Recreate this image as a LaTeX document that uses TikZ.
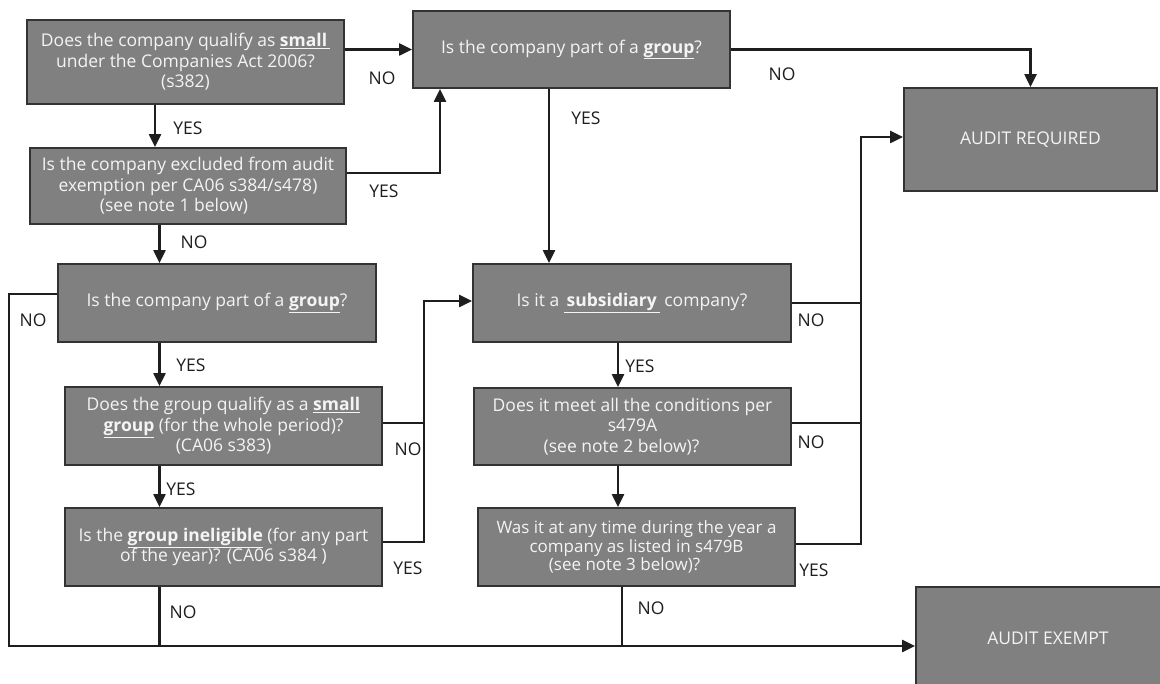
\documentclass[tikz,border=0pt]{standalone}
\usepackage{fontspec}
\setmainfont{Open Sans}
\usetikzlibrary{arrows.meta}
\definecolor{boxgray}{HTML}{808080}
\definecolor{edgegray}{HTML}{333333}
\definecolor{ink}{HTML}{1E1E1E}
\definecolor{boxtext}{HTML}{F4F4F4}
\tikzset{
  qbox/.style={draw=edgegray, line width=1.8pt, fill=boxgray, text=boxtext,
    align=center, inner sep=0pt, font=\fontsize{17.5}{20.5}\selectfont},
  arr/.style={draw=ink, line width=2.2pt, -{Triangle[length=13pt,width=12pt]}},
  ln/.style={draw=ink, line width=2.2pt},
  lbl/.style={text=ink, inner sep=0pt, font=\fontsize{17.5}{18}\selectfont},
}
\newcommand{\keyword}[1]{\underline{\textbf{#1}}}

\begin{document}
\begin{tikzpicture}[x=1pt,y=-1pt]
\useasboundingbox (0,0) rectangle (1160,684);
\fill[white] (0,0) rectangle (1160,684);

% decision boxes
\node[qbox, minimum width=317pt, minimum height=84pt] (A) at (185.5,62)
  {Does the company qualify as \keyword{small\,}\\under the Companies Act 2006?\\(s382)};
\node[qbox, minimum width=316pt, minimum height=76pt] (B) at (188,186)
  {Is the company excluded from audit\\exemption per CA06 s384/s478)\\(see note 1 below)\hspace*{28pt}};
\node[qbox, minimum width=317pt, minimum height=77pt] (C) at (571.5,49.5)
  {Is the company part of a \keyword{group}?};
\node[qbox, minimum width=318pt, minimum height=78pt] (D) at (217,303)
  {Is the company part of a \keyword{group}?};
\node[qbox, minimum width=317pt, minimum height=78pt] (E) at (223.5,426)
  {Does the group qualify as a \keyword{small}\\\keyword{group} (for the whole period)?\\(CA06 s383)};
\node[qbox, minimum width=317pt, minimum height=78pt] (F) at (223.5,547)
  {Is the \keyword{group ineligible} (for any part\\of the year)? (CA06 s384 )};
\node[qbox, minimum width=318pt, minimum height=78pt] (G) at (632,303)
  {Is it a \keyword{\,subsidiary\,} company?};
\node[qbox, minimum width=317pt, minimum height=77pt] (H) at (632.5,426.5)
  {Does it meet all the conditions per\\s479A\hspace*{42pt}\\(see note 2 below)?\hspace*{22pt}};
\node[qbox, minimum width=317pt, minimum height=78pt,
      font=\fontsize{17}{18.5}\selectfont] (I) at (636.5,547)
  {Was it at any time during the year a\\company as listed in s479B\hspace*{16pt}\\(see note 3 below)?\hspace*{24pt}};

% outcomes
\node[qbox, minimum width=253pt, minimum height=103pt] (AR) at (1030.5,139.5)
  {AUDIT REQUIRED};
\node[qbox, minimum width=264pt, minimum height=103pt] (AE) at (1048,638.5)
  {AUDIT EXEMPT};

% routing points
\coordinate (xa) at (155,0);
\coordinate (xb) at (159.5,0);
\coordinate (bc) at (440,173);
\coordinate (xd) at (549,0);
\coordinate (dl) at (9,294);
\coordinate (bl) at (9,646);
\coordinate (jl) at (424,301);
\coordinate (jr) at (861,137);
\coordinate (xh) at (618,0);
\coordinate (xi) at (622,0);

% connectors
\draw[arr] (A.east |- C.west) -- (C.west);
\draw[arr] (A.south -| xa) -- (B.north -| xa);
\draw[arr] (B.east |- bc) -- (bc) -- (C.south -| bc);
\draw[arr] (B.south -| xb) -- (D.north -| xb);
\draw[arr] (C.east) -- (C.east -| AR.north) -- (AR.north);
\draw[arr] (C.south -| xd) -- (G.north -| xd);
\draw[arr] (D.west |- dl) -- (dl) -- (bl) -- (AE.west |- bl);
\draw[arr] (D.south -| xb) -- (E.north -| xb);
\draw[arr] (E.south -| xb) -- (F.north -| xb);
\draw[ln] (F.south -| xb) -- (xb |- bl);
\draw[arr] (E.east |- 0,423) -| (jl) -- (G.west |- jl);
\draw[ln] (F.east |- 0,542) -| (jl);
\draw[arr] (G.east) -| (jr) -- (AR.west |- jr);
\draw[ln] (H.east |- 0,423) -- (jr |- 0,423);
\draw[ln] (I.east |- 0,544) -| (jr);
\draw[arr] (G.south -| xh) -- (H.north -| xh);
\draw[arr] (H.south -| xh) -- (I.north -| xh);
\draw[ln] (I.south -| xi) -- (xi |- bl);

% branch labels
\node[lbl] (l1) at (382,78) {NO};
\node[lbl] (l2) at (188,128) {YES};
\node[lbl] (l3) at (384,191) {YES};
\node[lbl] (l4) at (194,242) {NO};
\node[lbl] (l5) at (782,74) {NO};
\node[lbl] (l6) at (586,118) {YES};
\node[lbl] (l7) at (33,320) {NO};
\node[lbl] (l8) at (191,365) {YES};
\node[lbl] (l9) at (408,449) {NO};
\node[lbl] (l10) at (181,489) {YES};
\node[lbl] (l11) at (408,568) {YES};
\node[lbl] (l12) at (183,612) {NO};
\node[lbl] (l13) at (811,320) {NO};
\node[lbl] (l14) at (640,366) {YES};
\node[lbl] (l15) at (811,442) {NO};
\node[lbl] (l16) at (814,570) {YES};
\node[lbl] (l17) at (651,608) {NO};
\end{tikzpicture}
\end{document}
